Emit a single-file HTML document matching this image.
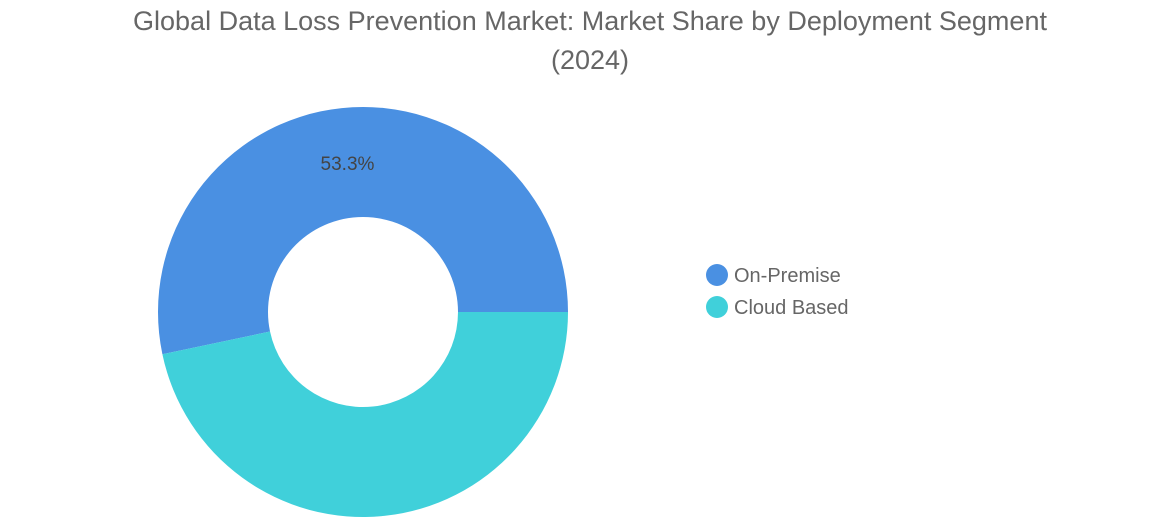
<!DOCTYPE html>
<html><head><meta charset="utf-8"><style>
html,body{margin:0;padding:0;background:#fff;}
body{width:1155px;height:522px;overflow:hidden;font-family:"Liberation Sans",sans-serif;}
</style></head><body>
<svg width="1155" height="522" viewBox="0 0 1155 522">
<text x="590" y="30" text-anchor="middle" font-size="27" fill="#666">Global Data Loss Prevention Market: Market Share by Deployment Segment</text>
<text x="590" y="69" text-anchor="middle" font-size="27" fill="#666">(2024)</text>
<g id="slices"></g>
<g id="legend"></g>
</svg>
<script>
const categories = ["On-Premise", "Cloud Based"];
const values = [53.3, 46.7];
const labels = ["53.3%", ""];
const colors = ["#4a90e2", "#40d0da"];
const cx = 363, cy = 312, R = 205, r = 95;
const NS = "http://www.w3.org/2000/svg";
const g = document.getElementById("slices");
const total = values.reduce((a, b) => a + b, 0);
let start = 0;
function pt(rad, a){ return [cx + rad*Math.cos(a), cy - rad*Math.sin(a)]; }
values.forEach((v, i) => {
  const a0 = start / total * 2*Math.PI, a1 = (start + v) / total * 2*Math.PI;
  const large = (a1 - a0) > Math.PI ? 1 : 0;
  const p0 = pt(R, a0), p1 = pt(R, a1), q1 = pt(r, a1), q0 = pt(r, a0);
  const d = `M${p0[0]},${p0[1]} A${R},${R} 0 ${large} 0 ${p1[0]},${p1[1]} L${q1[0]},${q1[1]} A${r},${r} 0 ${large} 1 ${q0[0]},${q0[1]} Z`;
  const path = document.createElementNS(NS, "path");
  path.setAttribute("d", d);
  path.setAttribute("fill", colors[i]);
  
  
  g.appendChild(path);
  if (labels[i]) {
    const am = (a0 + a1) / 2;
    const lp = pt((R + r) / 2, am);
    const t = document.createElementNS(NS, "text");
    t.setAttribute("x", lp[0]);
    t.setAttribute("y", lp[1] + 7);
    t.setAttribute("text-anchor", "middle");
    t.setAttribute("font-size", "19");
    t.setAttribute("fill", "#444");
    t.textContent = labels[i];
    
    
    g.appendChild(t);
  }
  start += v;
});
const lg = document.getElementById("legend");
categories.forEach((c, i) => {
  const y = 275 + i*32;
  const dot = document.createElementNS(NS, "circle");
  dot.setAttribute("cx", 717); dot.setAttribute("cy", y); dot.setAttribute("r", 11);
  dot.setAttribute("fill", colors[i]);
  
  
  lg.appendChild(dot);
  const t = document.createElementNS(NS, "text");
  t.setAttribute("x", 734); t.setAttribute("y", y + 7);
  t.setAttribute("font-size", "20"); t.setAttribute("fill", "#666");
  t.textContent = c;
  
  
  lg.appendChild(t);
});
</script>
</body></html>
